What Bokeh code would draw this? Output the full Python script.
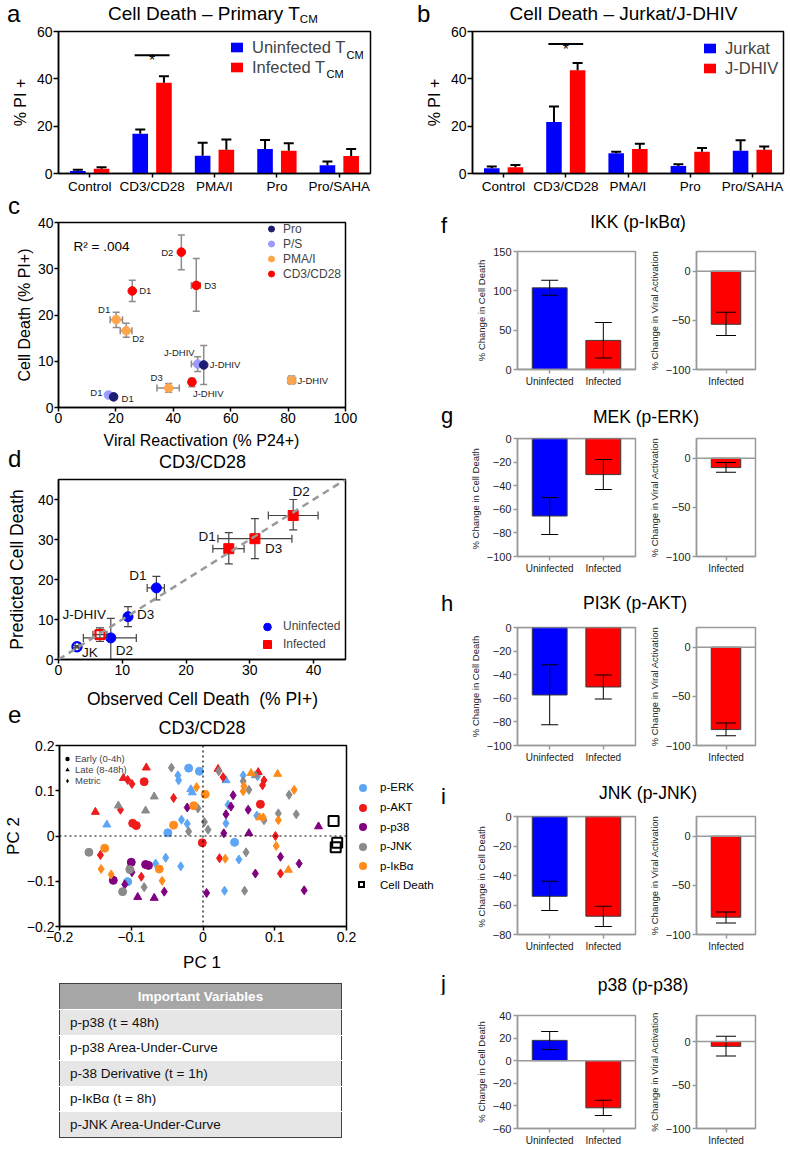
import math
from bokeh.plotting import figure
from bokeh.models import (ColumnDataSource, FactorRange, Range1d, Label, Legend,
                          LegendItem, Span, Slope, Div)
from bokeh.layouts import row, column
from bokeh.transform import dodge
from bokeh.core.properties import value
from bokeh.embed import file_html
from bokeh.resources import INLINE

FONT = "Liberation Sans"
CSSFONT = "'Liberation Sans',Arial,sans-serif"
BLUE = "#0000ff"
RED = "#ff0000"

# ---------------- data: panels a / b ----------------
bar_categories = ["Control", "CD3/CD28", "PMA/I", "Pro", "Pro/SAHA"]
a_uninfected = [1.1, 16.8, 7.5, 10.4, 3.5]
a_uninfected_err = [0.5, 1.8, 5.5, 3.8, 1.6]
a_infected = [2.0, 38.3, 10.0, 9.6, 7.4]
a_infected_err = [0.6, 2.8, 4.4, 3.2, 2.9]
a_sig_y = 50.0
b_jurkat = [2.2, 21.8, 8.6, 3.2, 9.6]
b_jurkat_err = [0.8, 6.5, 0.6, 0.7, 4.4]
b_jdhiv = [2.6, 43.6, 10.3, 9.2, 10.0]
b_jdhiv_err = [1.0, 3.1, 2.3, 1.6, 1.4]
b_sig_y = 54.7
bar_y_ticks = [0, 20, 40, 60]

# ---------------- data: panel c ----------------
c_treatments = ["Pro", "P/S", "PMA/I", "CD3/CD28"]
c_treat = ["Pro", "Pro", "P/S", "P/S", "PMA/I", "PMA/I", "PMA/I", "PMA/I",
           "CD3/CD28", "CD3/CD28", "CD3/CD28", "CD3/CD28"]
c_name = ["D1", "J-DHIV", "D1", "J-DHIV", "D1", "D2", "D3", "J-DHIV",
          "D1", "D2", "D3", "J-DHIV"]
c_p24 = [19.2, 50.6, 17.4, 48.5, 20.1, 23.6, 38.4, 81.2, 25.7, 42.8, 48.0, 46.5]
c_p24_lo = [18.2, 50.6, 16.9, 46.3, 18.0, 21.5, 34.3, 79.9, 25.7, 42.8, 46.3, 45.7]
c_p24_hi = [20.2, 50.6, 18.0, 50.6, 22.3, 25.6, 42.1, 82.6, 25.7, 42.8, 49.4, 47.3]
c_pi = [2.3, 9.2, 2.7, 9.4, 19.0, 16.6, 4.2, 5.9, 25.2, 33.6, 26.4, 5.5]
c_pi_lo = [1.9, 5.0, 2.4, 7.8, 17.3, 15.2, 3.3, 5.1, 22.9, 29.8, 20.8, 4.5]
c_pi_hi = [2.7, 13.4, 3.0, 11.0, 20.6, 18.2, 5.2, 6.8, 27.5, 37.3, 32.2, 6.3]
c_r2_text = "R\u00b2 = .004"
c_x_ticks = [0, 20, 40, 60, 80, 100]
c_y_ticks = [0, 10, 20, 30, 40]

# ---------------- data: panel d ----------------
d_uninf_name = ["D1", "D3", "D2", "JK"]
d_uninf_obs = [15.35, 10.9, 8.2, 2.9]
d_uninf_obs_lo = [13.9, 10.6, 3.9, 2.6]
d_uninf_obs_hi = [16.6, 11.2, 12.2, 3.2]
d_uninf_pred = [17.9, 10.7, 5.4, 3.2]
d_uninf_pred_lo = [14.9, 8.2, 0.0, 2.9]
d_uninf_pred_hi = [20.8, 13.2, 10.3, 3.5]
d_uninf_open = [False, False, False, True]
d_inf_name = ["D1", "D3", "D2", "J-DHIV"]
d_inf_obs = [26.7, 30.8, 36.8, 6.5]
d_inf_obs_lo = [24.2, 25.0, 32.9, 5.4]
d_inf_obs_hi = [29.1, 36.6, 40.7, 7.6]
d_inf_pred = [27.7, 30.2, 36.0, 6.2]
d_inf_pred_lo = [23.9, 25.2, 32.4, 4.5]
d_inf_pred_hi = [31.7, 35.2, 40.0, 7.9]
d_inf_open = [False, False, False, True]
d_ticks = [0, 10, 20, 30, 40]

# ---------------- data: panel e (PCA) ----------------
e_erk_pc1 = [-0.020, -0.035, -0.034, -0.005, -0.017, -0.015, 0.032, 0.056, 0.076, 0.035, 0.032, 0.075,
             0.044, 0.050, 0.030, -0.134, -0.030, -0.022, -0.049, -0.105, -0.066, -0.052, -0.031]
e_erk_pc2 = [0.150, 0.134, 0.123, 0.143, 0.103, 0.096, 0.123, 0.134, 0.132, 0.069, 0.028, 0.045,
             -0.014, -0.052, -0.121, 0.025, 0.036, 0.027, 0.007, -0.101, -0.061, -0.048, -0.067]
e_erk_kind = ["E", "M", "M", "E", "L", "L", "L", "M", "M", "M", "M", "M",
              "E", "M", "M", "L", "M", "M", "E", "E", "M", "M", "M"]
e_akt_pc1 = [-0.079, -0.111, -0.105, -0.099, -0.082, 0.021, 0.028, 0.077, 0.085, 0.083, -0.041,
             -0.115, -0.150, -0.098, -0.093, 0.080, -0.001, 0.101, 0.108, 0.023, -0.143, -0.086]
e_akt_pc2 = [0.151, 0.128, 0.124, 0.115, 0.120, 0.148, 0.130, 0.141, 0.123, 0.112, 0.084,
             0.058, 0.053, 0.028, 0.023, 0.070, -0.015, 0.000, -0.083, -0.049, -0.042, -0.090]
e_akt_kind = ["L", "L", "M", "M", "E", "L", "M", "L", "M", "M", "M",
              "M", "L", "E", "E", "E", "E", "M", "M", "M", "M", "M"]
e_p38_pc1 = [-0.022, 0.042, 0.039, 0.032, 0.029, 0.063, 0.064, 0.161, 0.108, 0.134, 0.141, 0.073,
             0.005, -0.125, -0.109, -0.091, -0.068, -0.054, -0.100, -0.102, -0.099, -0.080, -0.076]
e_p38_pc2 = [0.063, 0.090, 0.065, 0.048, 0.006, 0.058, 0.006, 0.021, -0.046, -0.061, -0.120, -0.083,
             -0.126, -0.098, -0.107, -0.135, -0.137, -0.123, -0.058, -0.069, -0.080, -0.063, -0.065]
e_p38_kind = ["M", "M", "M", "M", "M", "M", "L", "L", "M", "M", "M", "M",
              "M", "E", "M", "L", "L", "M", "E", "M", "M", "E", "E"]
e_jnk_pc1 = [-0.044, 0.022, 0.056, 0.073, 0.064, -0.068, -0.118, -0.080, -0.007, 0.002, 0.007,
             -0.020, 0.085, 0.105, 0.130, 0.120, 0.060, 0.058, -0.159, -0.102, -0.112, -0.082]
e_jnk_pc2 = [0.151, 0.143, 0.121, 0.134, 0.102, 0.087, 0.067, 0.056, 0.061, 0.031, 0.014,
             0.010, 0.035, 0.050, 0.048, 0.091, -0.036, -0.121, -0.036, -0.074, -0.123, -0.113]
e_jnk_kind = ["M", "M", "M", "L", "M", "L", "L", "L", "M", "M", "M",
              "M", "M", "M", "M", "M", "M", "M", "E", "E", "E", "M"]
e_ikb_pc1 = [-0.009, 0.003, 0.067, 0.104, 0.057, 0.056, 0.127, -0.013, -0.041, 0.079,
             0.084, 0.105, 0.102, 0.119, 0.031, -0.137, -0.142, -0.128, -0.057, -0.061]
e_ikb_pc2 = [0.108, 0.092, 0.139, 0.137, 0.110, 0.099, 0.102, 0.067, 0.024, 0.041,
             0.041, 0.035, -0.022, -0.075, -0.050, -0.027, -0.073, -0.085, -0.099, -0.073]
e_ikb_kind = ["M", "E", "L", "L", "M", "M", "M", "E", "E", "L",
              "M", "M", "M", "L", "M", "E", "M", "M", "M", "E"]
e_death_pc1 = [0.182, 0.187, 0.185]
e_death_pc2 = [0.033, -0.015, -0.025]
e_signals = ["p-ERK", "p-AKT", "p-p38", "p-JNK", "p-I\u03baB\u03b1"]
e_kind_names = ["Early (0-4h)", "Late (8-48h)", "Metric"]
e_ticks = [-0.2, -0.1, 0, 0.1, 0.2]

table_header = "Important Variables"
table_rows = ["p-p38 (t = 48h)", "p-p38 Area-Under-Curve", "p-38 Derivative (t = 1h)",
              "p-I\u03baB\u03b1 (t = 8h)", "p-JNK Area-Under-Curve"]

# ---------------- data: panels f-j ----------------
change_categories = ["Uninfected", "Infected"]
va_category = ["Infected"]
f_cd = [103.8, 37.0]; f_cd_lo = [94.5, 14.7]; f_cd_hi = [113.4, 59.7]
f_va = [-54.0]; f_va_lo = [-65.4]; f_va_hi = [-41.8]
g_cd = [-65.7, -30.6]; g_cd_lo = [-81.3, -43.3]; g_cd_hi = [-50.1, -17.8]
g_va = [-9.6]; g_va_lo = [-14.4]; g_va_hi = [-4.5]
h_cd = [-57.2, -50.4]; h_cd_lo = [-82.5, -60.6]; h_cd_hi = [-31.5, -40.3]
h_va = [-83.8]; h_va_lo = [-90.2]; h_va_hi = [-77.0]
i_cd = [-54.1, -67.6]; i_cd_lo = [-63.8, -74.6]; i_cd_hi = [-43.9, -60.8]
i_va = [-82.4]; i_va_lo = [-88.2]; i_va_hi = [-77.1]
j_cd = [18.0, -41.7]; j_cd_lo = [9.9, -48.5]; j_cd_hi = [25.9, -34.9]
j_va = [-5.5]; j_va_lo = [-16.5]; j_va_hi = [6.2]
f_cd_range = (0, 150); f_cd_ticks = [0, 50, 100, 150]
g_cd_range = (-100, 0); g_cd_ticks = [-100, -80, -60, -40, -20, 0]
h_cd_range = (-100, 0); h_cd_ticks = [-100, -80, -60, -40, -20, 0]
i_cd_range = (-80, 0); i_cd_ticks = [-80, -60, -40, -20, 0]
j_cd_range = (-60, 40); j_cd_ticks = [-60, -40, -20, 0, 20, 40]
va_range = (-100, 20); va_ticks = [-100, -50, 0]
j_va_range = (-100, 30)


# ---------------- helpers ----------------
def base_fig(w, h, xr, yr, l, r, t, b):
    p = figure(width=w, height=h, x_range=xr, y_range=yr, min_border_left=l,
               min_border_right=r, min_border_top=t, min_border_bottom=b,
               output_backend="svg", toolbar_location=None, title=None)
    p.xgrid.visible = False
    p.ygrid.visible = False
    return p


def style_axes(p, tick_size, label_size, color="black", lw=1.5, tick_out=4, standoff=1,
               label_standoff=4, text_color="black"):
    for ax in p.axis:
        ax.major_label_text_font = FONT
        ax.major_label_text_font_size = tick_size
        ax.major_label_text_color = text_color
        ax.axis_label_text_font = FONT
        ax.axis_label_text_font_size = label_size
        ax.axis_label_text_font_style = "normal"
        ax.axis_label_text_color = text_color
        ax.axis_label_standoff = label_standoff
        ax.major_label_standoff = standoff
        ax.major_tick_in = 0
        ax.major_tick_out = tick_out
        ax.minor_tick_in = 0
        ax.minor_tick_out = 0
        ax.axis_line_color = color
        ax.axis_line_width = lw
        ax.major_tick_line_color = color
        ax.major_tick_line_width = lw
    p.outline_line_color = color
    p.outline_line_width = lw


def lab(p, text, x, y, size, align="left"):
    p.add_layout(Label(x=x, y=y, x_units="screen", y_units="screen", text=text,
                       text_font=FONT, text_font_size=size, text_align=align,
                       text_baseline="alphabetic", text_color="black"))


def legend(items, location, **kw):
    opts = dict(location=location, padding=0, margin=0, border_line_color=None,
                background_fill_alpha=0, label_text_font=FONT, spacing=0)
    opts.update(kw)
    return Legend(items=[LegendItem(label=l, renderers=r) for l, r in items], **opts)


def text_parts(items):
    parts = []
    for html, x, base, fs, align in items:
        top = base - 0.8465 * fs
        if align == "center":
            pos = f"left:{x - 200:.1f}px;width:400px;text-align:center;"
        else:
            pos = f"left:{x:.1f}px;"
        parts.append(f'<div style="position:absolute;{pos}top:{top:.1f}px;font-size:{fs}px;'
                     f'line-height:{fs}px;white-space:pre;">{html}</div>')
    return "".join(parts)


def text_div(width, height, items, extra=""):
    return Div(width=width, height=height, margin=0, text=(
        f'<div style="position:relative;width:{width}px;height:{height}px;'
        f'font-family:{CSSFONT};color:#000000;">' + text_parts(items) + extra + "</div>"))


def caps(p, src, xf, yf, w, h, color):
    p.rect(x=xf, y=yf, width=w, height=h, width_units="screen", height_units="screen",
           source=src, fill_color=color, line_color=None)


# ---------------- panels a / b ----------------
def bar_panel(width, mbl, mbr, s1, e1, s2, e2, leg_labels, leg_xy, sig_y):
    src = ColumnDataSource(dict(cat=bar_categories, v1=s1, t1=[v + e for v, e in zip(s1, e1)],
                                v2=s2, t2=[v + e for v, e in zip(s2, e2)]))
    p = base_fig(width, 175, FactorRange(factors=bar_categories), Range1d(0, 60), mbl, mbr, 8, 25)
    xa = dodge("cat", -0.19, range=p.x_range)
    xb = dodge("cat", 0.19, range=p.x_range)
    r1 = p.vbar(x=xa, top="v1", width=0.25, source=src, fill_color=BLUE, line_color=None)
    r2 = p.vbar(x=xb, top="v2", width=0.25, source=src, fill_color=RED, line_color=None)
    for xx, lo, hi in ((xa, "v1", "t1"), (xb, "v2", "t2")):
        p.segment(x0=xx, y0=lo, x1=xx, y1=hi, source=src, line_color="black", line_width=2)
        caps(p, src, xx, hi, 10, 2, "black")
    sig = ColumnDataSource(dict(cat=[bar_categories[1]], y=[sig_y]))
    p.segment(x0=dodge("cat", -0.28, range=p.x_range), y0="y",
              x1=dodge("cat", 0.28, range=p.x_range), y1="y", source=sig,
              line_color="black", line_width=2)
    p.text(x="cat", y="y", text=value("*"), source=sig, text_align="center",
           text_baseline="alphabetic", y_offset=5, text_font=value(FONT),
           text_font_size=value("16px"))
    p.yaxis.ticker = bar_y_ticks
    p.yaxis.axis_label = "% PI +"
    style_axes(p, "14px", "16px", tick_out=5, standoff=1, label_standoff=5)
    p.xaxis.major_label_text_font_size = "13.5px"
    p.xaxis.major_tick_out = 4
    p.add_layout(legend([(leg_labels[0], [r1]), (leg_labels[1], [r2])], leg_xy,
                        glyph_width=15, glyph_height=12, label_height=20, label_standoff=8,
                        label_text_font_size="16.5px"))
    return p


pa = bar_panel(400, 58, 30, a_uninfected, a_uninfected_err, a_infected, a_infected_err,
               ["Uninfected T", "Infected T"], (171, 96), a_sig_y)
lab(pa, "CM", 288, 118.5, "11px")
lab(pa, "CM", 268, 99.5, "11px")
head_a = text_div(400, 23, [
    ("a", 7, 22, 24, "left"),
    ('Cell Death \u2013 Primary T<span style="font-size:11.5px;vertical-align:-3px">CM</span>',
     108, 20, 19, "left")])
pb = bar_panel(388, 72, 5, b_jurkat, b_jurkat_err, b_jdhiv, b_jdhiv_err,
               ["Jurkat", "J-DHIV"], (230, 95), b_sig_y)
head_b = text_div(388, 23, [
    ("b", 17, 22, 24, "left"),
    ("Cell Death \u2013 Jurkat/J-DHIV", 223.5, 20, 19, "center")])

# ---------------- panel c ----------------
pc = base_fig(438, 215, Range1d(0, 100), Range1d(0, 40), 58, 93, 8, 22)
c_colors = {"Pro": "#1c1c72", "P/S": "#9a9aff", "PMA/I": "#ffa64d", "CD3/CD28": "#ff0000"}
c_lbl_dx = [8, 6, -6, -3, -6, 6, -6, 6, 7, -8, 8, 1]
c_lbl_dy = [2, 0, -3, -12, -10, 8, -11, 0, 0, 0, 0, 11]
c_lbl_align = ["left", "left", "right", "right", "right", "left", "right", "left",
               "left", "right", "left", "left"]
csrc = ColumnDataSource(dict(x=c_p24, y=c_pi, xlo=c_p24_lo, xhi=c_p24_hi, ylo=c_pi_lo,
                             yhi=c_pi_hi))
ERRC = "#8c8c8c"
pc.segment(x0="x", y0="ylo", x1="x", y1="yhi", source=csrc, line_color=ERRC, line_width=1.5)
pc.segment(x0="xlo", y0="y", x1="xhi", y1="y", source=csrc, line_color=ERRC, line_width=1.5)
for yy in ("ylo", "yhi"):
    caps(pc, csrc, "x", yy, 7, 1.5, ERRC)
for xx in ("xlo", "xhi"):
    caps(pc, csrc, xx, "y", 1.5, 7, ERRC)
c_rend = {}
for t in ["P/S", "Pro", "PMA/I", "CD3/CD28"]:
    idx = [k for k, tt in enumerate(c_treat) if tt == t]
    s = ColumnDataSource(dict(x=[c_p24[k] for k in idx], y=[c_pi[k] for k in idx]))
    c_rend[t] = pc.circle(x="x", y="y", source=s, radius=4.3, radius_units="screen",
                          fill_color=c_colors[t], line_color=c_colors[t])
for al in ("left", "right"):
    idx = [k for k in range(len(c_name)) if c_lbl_align[k] == al]
    s = ColumnDataSource(dict(x=[c_p24[k] for k in idx], y=[c_pi[k] for k in idx],
                              name=[c_name[k] for k in idx], dx=[c_lbl_dx[k] for k in idx],
                              dy=[c_lbl_dy[k] for k in idx]))
    pc.text(x="x", y="y", text="name", x_offset="dx", y_offset="dy", text_align=al,
            text_baseline="middle", source=s, text_font=value(FONT),
            text_font_size=value("9.5px"), text_color="#222222")
pc.xaxis.ticker = c_x_ticks
pc.yaxis.ticker = c_y_ticks
pc.yaxis.axis_label = "Cell Death (% PI+)"
style_axes(pc, "14px", "16px", tick_out=4, standoff=1, label_standoff=2)
pc.add_layout(legend([(t, [c_rend[t]]) for t in c_treatments], (205, 126),
                     glyph_width=16, glyph_height=15, label_height=15, label_standoff=4,
                     label_text_font_size="12px"))
lab(pc, c_r2_text, 15, 161, "13.5px")
head_c = text_div(438, 16, [("c", 8, 16, 24, "left")])
head_d = text_div(438, 41, [("Viral Reactivation (% P24+)", 201.5, 17.4, 16, "center"),
                            ("d", 8, 38.5, 24, "left"),
                            ("CD3/CD28", 202.5, 39.4, 18, "center")])

# ---------------- panel d ----------------
pd_ = base_fig(438, 211, Range1d(0, 45), Range1d(0, 45), 58, 91, 9, 22)
pd_.add_layout(Slope(gradient=1, y_intercept=0, line_color="#9a9a9a", line_dash="7 5",
                     line_width=2.5))
ERRD = "#444444"
d_leg = {}
for names, obs, olo, ohi, pred, plo, phi, opn, color, is_circle, dx, dy, al, key in (
        (d_uninf_name, d_uninf_obs, d_uninf_obs_lo, d_uninf_obs_hi, d_uninf_pred,
         d_uninf_pred_lo, d_uninf_pred_hi, d_uninf_open, BLUE, True,
         [-10, 9, 5, 5], [-12, -2, 13, 6], ["right", "left", "left", "left"], "Uninfected"),
        (d_inf_name, d_inf_obs, d_inf_obs_lo, d_inf_obs_hi, d_inf_pred,
         d_inf_pred_lo, d_inf_pred_hi, d_inf_open, RED, False,
         [-13, 10, 8, 6], [-12, 10, -24, -20], ["right", "left", "center", "right"], "Infected")):
    s = ColumnDataSource(dict(x=obs, y=pred, xlo=olo, xhi=ohi, ylo=plo, yhi=phi))
    pd_.segment(x0="x", y0="ylo", x1="x", y1="yhi", source=s, line_color=ERRD, line_width=1.2)
    pd_.segment(x0="xlo", y0="y", x1="xhi", y1="y", source=s, line_color=ERRD, line_width=1.2)
    for yy in ("ylo", "yhi"):
        caps(pd_, s, "x", yy, 8, 1.2, ERRD)
    for xx in ("xlo", "xhi"):
        caps(pd_, s, xx, "y", 1.2, 8, ERRD)
    filled = [k for k in range(len(names)) if not opn[k]]
    hollow = [k for k in range(len(names)) if opn[k]]
    sf = ColumnDataSource(dict(x=[obs[k] for k in filled], y=[pred[k] for k in filled]))
    sh = ColumnDataSource(dict(x=[obs[k] for k in hollow], y=[pred[k] for k in hollow]))
    if is_circle:
        d_leg[key] = pd_.circle(x="x", y="y", source=sf, radius=5, radius_units="screen",
                                fill_color=color, line_color=color)
        pd_.circle(x="x", y="y", source=sh, radius=4.6, radius_units="screen", fill_alpha=0,
                   line_color=color, line_width=2.2)
    else:
        d_leg[key] = pd_.rect(x="x", y="y", source=sf, width=10, height=10,
                              width_units="screen", height_units="screen",
                              fill_color=color, line_color=color)
        pd_.rect(x="x", y="y", source=sh, width=9, height=9, width_units="screen",
                 height_units="screen", fill_alpha=0, line_color=color, line_width=2.2)
    for a_ in ("left", "right", "center"):
        idx = [k for k in range(len(names)) if al[k] == a_]
        if not idx:
            continue
        st = ColumnDataSource(dict(x=[obs[k] for k in idx], y=[pred[k] for k in idx],
                                   name=[names[k] for k in idx], dx=[dx[k] for k in idx],
                                   dy=[dy[k] for k in idx]))
        pd_.text(x="x", y="y", text="name", x_offset="dx", y_offset="dy", text_align=a_,
                 text_baseline="middle", source=st, text_font=value(FONT),
                 text_font_size=value("13.5px"), text_color="#111111")
pd_.xaxis.ticker = d_ticks
pd_.yaxis.ticker = d_ticks
pd_.yaxis.axis_label = "Predicted Cell Death"
style_axes(pd_, "14px", "17.5px", tick_out=4, standoff=1, label_standoff=8)
pd_.add_layout(legend([("Uninfected", [d_leg["Uninfected"]])], (198, 23.5), glyph_width=22,
                      glyph_height=19, label_height=19, label_standoff=5,
                      label_text_font_size="12px"))
pd_.add_layout(legend([("Infected", [d_leg["Infected"]])], (204, 8), glyph_width=10,
                      glyph_height=10, label_height=10, label_standoff=11,
                      label_text_font_size="12px"))
head_e = text_div(438, 55, [("Observed Cell Death  (% PI+)", 202.5, 24.8, 17.5, "center"),
                            ("e", 8, 42, 24, "left"),
                            ("CD3/CD28", 202, 53.5, 18, "center")])

# ---------------- panel e ----------------
pe = base_fig(358, 212, Range1d(-0.2, 0.2), Range1d(-0.2, 0.2), 58, 12, 9, 22)
pe.add_layout(Span(location=0, dimension="height", line_color="black", line_dash="2 3",
                   line_width=1.2))
pe.add_layout(Span(location=0, dimension="width", line_color="black", line_dash="2 3",
                   line_width=1.2))
e_colors = ["#5da5f5", "#ee1c1c", "#800080", "#8a8a8a", "#ff8c1a"]
e_groups = [(e_erk_pc1, e_erk_pc2, e_erk_kind), (e_akt_pc1, e_akt_pc2, e_akt_kind),
            (e_p38_pc1, e_p38_pc2, e_p38_kind), (e_jnk_pc1, e_jnk_pc2, e_jnk_kind),
            (e_ikb_pc1, e_ikb_pc2, e_ikb_kind)]
e_markers = {"E": ("circle", 8), "L": ("triangle", 8), "M": ("diamond", 9)}
for (xs, ys, ks), col in zip(e_groups, e_colors):
    for kind in ("M", "L", "E"):
        idx = [k for k in range(len(xs)) if ks[k] == kind]
        s = ColumnDataSource(dict(x=[xs[k] for k in idx], y=[ys[k] for k in idx]))
        mk, sz = e_markers[kind]
        pe.scatter(x="x", y="y", source=s, marker=mk, size=sz, fill_color=col, line_color=col)
pe.scatter(x=e_death_pc1, y=e_death_pc2, marker="square", size=10, fill_alpha=0,
           line_color="black", line_width=2)
kind_r = []
for kind in ("E", "L", "M"):
    mk, sz = e_markers[kind]
    # zero-size key renderers (only their legend glyph is visible)
    kind_r.append(pe.scatter(x=e_death_pc1, y=e_death_pc2, marker=mk, size=0,
                             fill_color="black", line_alpha=0))
pe.add_layout(legend(list(zip(e_kind_names, [[r] for r in kind_r])), (2, 140.5),
                     glyph_width=12, glyph_height=11, label_height=11, label_standoff=2,
                     label_text_font_size="9.5px"))
pe.xaxis.ticker = e_ticks
pe.yaxis.ticker = e_ticks
pe.xaxis.major_label_overrides = {0: "0"}
pe.yaxis.axis_label = "PC 2"
style_axes(pe, "14px", "17px", tick_out=4, standoff=1, label_standoff=1)

# e legend (outside the plot frame) as HTML
e_leg_html = ""
for k, (name, col) in enumerate(list(zip(e_signals, e_colors)) + [("Cell Death", None)]):
    cy = 52 + 19.6 * k
    if col is None:
        e_leg_html += (f'<div style="position:absolute;left:0px;top:{cy - 5.5:.1f}px;width:7px;'
                       f'height:7px;border:2px solid #000;"></div>')
    else:
        e_leg_html += (f'<div style="position:absolute;left:1px;top:{cy - 4:.1f}px;width:8px;'
                       f'height:8px;border-radius:50%;background:{col};"></div>')
e_leg_div = text_div(80, 212, [(name, 22, 52 + 19.6 * k + 0.358 * 11.5, 11.5, "left")
                               for k, name in enumerate(e_signals + ["Cell Death"])],
                     extra=e_leg_html)

# ---------------- table (with e x-axis title) ----------------
rows_html = ""
for k, t in enumerate(table_rows):
    bg = "#e6e6e6" if k % 2 == 0 else "#ffffff"
    rows_html += (f'<tr style="background:{bg};height:25.5px"><td style="padding:0 0 0 10px;'
                  f'border-top:1px solid #ffffff;white-space:nowrap">{t}</td></tr>')
table_html = (
    '<table style="position:absolute;left:59px;top:35px;width:283px;border-collapse:collapse;'
    'border:1.5px solid #404040;font-size:13.5px;color:#111111;">'
    f'<tr style="background:#a6a6a6;height:26px"><th style="color:#ffffff;font-weight:bold;'
    f'text-align:center;padding:0">{table_header}</th></tr>{rows_html}</table>')
table_div = text_div(438, 200, [("PC 1", 202, 20.6, 17, "center")], extra=table_html)


# ---------------- panels f-j ----------------
def change_block(letter, title, cx, hh, cy, lb, mbt, mbb, frame_h, cd, cd_lo, cd_hi, cd_rng,
                 cd_ticks, cd_label, va, va_lo, va_hi, va_rng):
    ts = 17.5
    head = text_div(350, hh, [(letter, 3, lb, 22, "left"),
                              (title, cx, cy + 0.358 * ts, ts, "center")])
    fh = mbt + frame_h + mbb
    pl = base_fig(207, fh, FactorRange(factors=change_categories, range_padding=0.1,
                                       range_padding_units="absolute"),
                  Range1d(*cd_rng), 79, 10, mbt, mbb)
    s = ColumnDataSource(dict(cat=change_categories, v=cd, lo=cd_lo, hi=cd_hi, color=[BLUE, RED]))
    pl.vbar(x="cat", top="v", bottom=0, width=0.65, fill_color="color", line_color="#3a3a3a",
            line_width=1, source=s)
    pl.add_layout(Span(location=0, dimension="width", line_color="#9a9a9a", line_width=1.5))
    pl.segment(x0="cat", y0="lo", x1="cat", y1="hi", source=s, line_color="black", line_width=1)
    for yy in ("lo", "hi"):
        caps(pl, s, "cat", yy, 17, 1, "black")
    pl.yaxis.ticker = cd_ticks
    pl.yaxis.axis_label = cd_label
    pr = base_fig(143, fh, FactorRange(factors=va_category), Range1d(*va_rng), 44, 33, mbt, mbb)
    s2 = ColumnDataSource(dict(cat=va_category, v=va, lo=va_lo, hi=va_hi))
    pr.vbar(x="cat", top="v", bottom=0, width=0.5, fill_color=RED, line_color="#3a3a3a",
            line_width=1, source=s2)
    pr.add_layout(Span(location=0, dimension="width", line_color="#9a9a9a", line_width=1.5))
    pr.segment(x0="cat", y0="lo", x1="cat", y1="hi", source=s2, line_color="black", line_width=1)
    for yy in ("lo", "hi"):
        caps(pr, s2, "cat", yy, 20, 1, "black")
    pr.yaxis.ticker = va_ticks
    pr.yaxis.axis_label = "% Change in Viral Activation"
    for p in (pl, pr):
        style_axes(p, "11px", "9.5px", color="#9a9a9a", lw=1.5, tick_out=4, standoff=2,
                   label_standoff=3, text_color="#222222")
        p.xaxis.major_label_text_font_size = "10px"
    return column(head, row(pl, pr))


blocks = [
    change_block("f", "IKK (p-I\u03baB\u03b1)", 200, 38, 24, 36, 15, 22, 118, f_cd, f_cd_lo,
                 f_cd_hi, f_cd_range, f_cd_ticks, "% Change in Cell Death", f_va, f_va_lo,
                 f_va_hi, va_range),
    change_block("g", "MEK (p-ERK)", 208, 37, 26, 33, 10, 22, 118, g_cd, g_cd_lo, g_cd_hi,
                 g_cd_range, g_cd_ticks, "% Change in  Cell Death", g_va, g_va_lo, g_va_hi,
                 va_range),
    change_block("h", "PI3K (p-AKT)", 197, 37, 25, 34, 12, 22, 118, h_cd, h_cd_lo, h_cd_hi,
                 h_cd_range, h_cd_ticks, "% Change in Cell Death", h_va, h_va_lo, h_va_hi,
                 va_range),
    change_block("i", "JNK (p-JNK)", 210, 40, 26, 38, 9, 22, 118, i_cd, i_cd_lo, i_cd_hi,
                 i_cd_range, i_cd_ticks, "%  Change in Cell Death", i_va, i_va_lo, i_va_hi,
                 va_range),
    change_block("j", "p38 (p-p38)", 205, 38, 29, 36, 21, 17, 116, j_cd, j_cd_lo, j_cd_hi,
                 j_cd_range, j_cd_ticks, "% Change in Cell Death", j_va, j_va_lo, j_va_hi,
                 j_va_range),
]

left_col = column(head_c, pc, head_d, pd_, head_e, row(pe, e_leg_div), table_div)
right_col = column(*blocks)
layout = column(row(column(head_a, pa), column(head_b, pb)), row(left_col, right_col))

open("out.html", "w").write(file_html(layout, INLINE))
